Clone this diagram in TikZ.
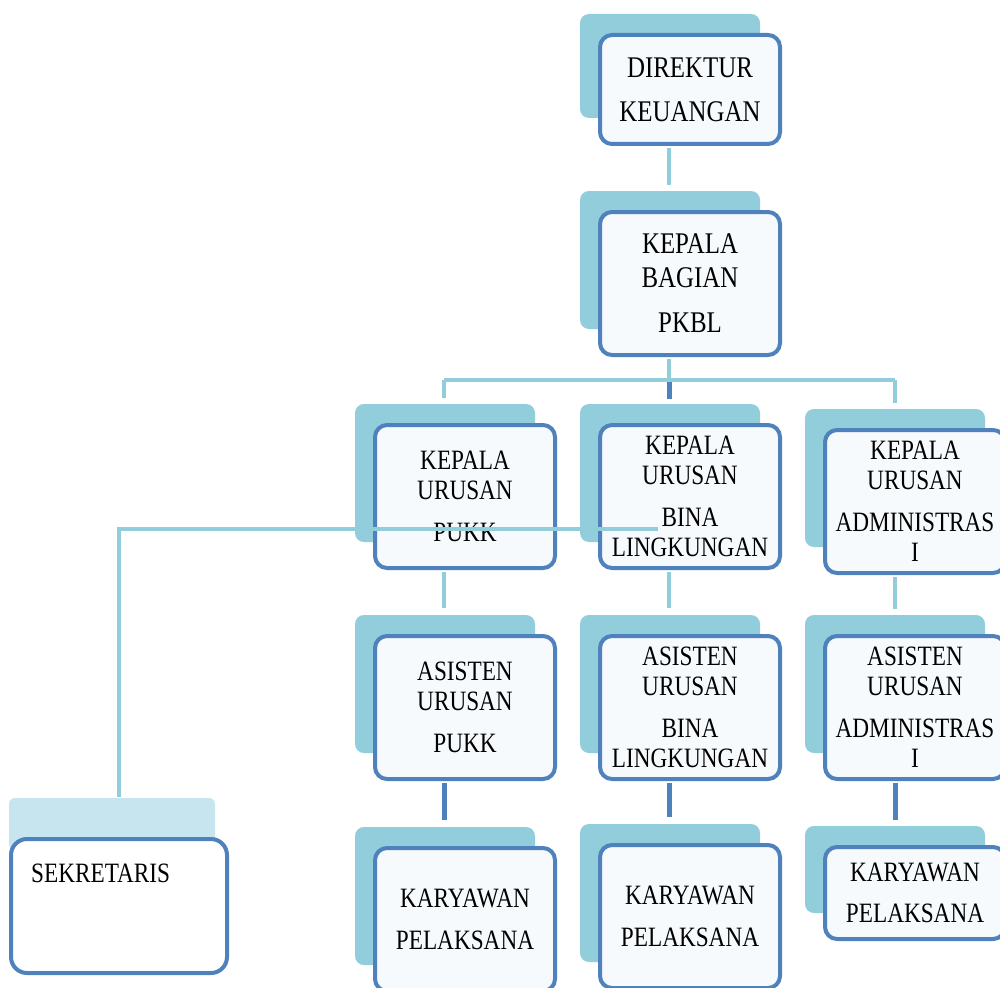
\documentclass[tikz,border=0pt]{standalone}
\usepackage{fontspec}
\newfontfamily\lbl[FakeStretch=0.83]{Liberation Serif}
\usetikzlibrary{calc}
\definecolor{backc}{HTML}{92CDDC}
\definecolor{edgec}{HTML}{4F81BD}
\definecolor{frontc}{HTML}{F6FAFD}
\definecolor{sekback}{HTML}{C6E5EE}
\tikzset{
  frontbox/.style={draw=edgec, line width=4pt, rounded corners=12pt, fill=frontc,
    minimum width=180pt, inner sep=0pt, align=center, font=\lbl\fontsize{28}{30}\selectfont},
  backbox/.style={fill=backc, rounded corners=9pt},
  lightline/.style={draw=backc, line width=4pt},
  darkline/.style={draw=edgec, line width=5pt},
  sektext/.style={font=\lbl\fontsize{28}{30}\selectfont, inner sep=0pt, anchor=west},
}
% [node options]{name}{cx}{cy}{height}{text}
\newcommand\orgbox[6][]{%
  \fill[backbox] ({#3-110},{#4-#5/2-21}) rectangle ({#3+70},{#4+#5/2-26});
  \node[frontbox, minimum height=#5pt, #1] (#2) at (#3,#4) {#6};
}
\begin{document}
\begin{tikzpicture}[x=1pt, y=-1pt]
\useasboundingbox (0,0) rectangle (1000,987);
\clip (0,0) rectangle (1000,987);
\fill[white] (0,0) rectangle (1000,987);

% boxes
\orgbox[font=\lbl\fontsize{30}{30}\selectfont]{dir}{690}{89.5}{109}{DIREKTUR\\[14pt]KEUANGAN}
\orgbox[font=\lbl\fontsize{30}{30}\selectfont]{pkbl}{690}{283.5}{143}{KEPALA\\[4pt]BAGIAN\\[15pt]PKBL}

\orgbox{kpukk}{465}{496.5}{143}{KEPALA\\URUSAN\\[12pt]PUKK}
\orgbox{kbina}{690}{496.5}{143}{KEPALA\\URUSAN\\[12pt]BINA\\LINGKUNGAN}
\orgbox{kadm}{915}{501.5}{143}{KEPALA\\URUSAN\\[12pt]ADMINISTRAS\\I}

\orgbox{apukk}{465}{707.5}{143}{ASISTEN\\URUSAN\\[12pt]PUKK}
\orgbox{abina}{690}{707.5}{143}{ASISTEN\\URUSAN\\[12pt]BINA\\LINGKUNGAN}
\orgbox{aadm}{915}{707.5}{143}{ASISTEN\\URUSAN\\[12pt]ADMINISTRAS\\I}

\orgbox{wpukk}{465}{919.5}{143}{KARYAWAN\\[12pt]PELAKSANA}
\orgbox{wbina}{690}{916.5}{143}{KARYAWAN\\[12pt]PELAKSANA}
\orgbox{wadm}{915}{893}{92}{KARYAWAN\\[11pt]PELAKSANA}

% sekretaris
\fill[sekback, rounded corners=6pt] (9,798) rectangle (215,850);
\node[frontbox, fill=white, minimum width=216pt, minimum height=134pt, rounded corners=16pt] (sek) at (119,906) {};
\node[sektext] (sekt) at (31,873) {SEKRETARIS};

% connectors
\coordinate (d1) at (669,185);
\draw[lightline] ($(dir.south)+(-21,2)$) -- (d1);

\coordinate (hm) at (669,380);
\coordinate (hl) at (444,380);
\coordinate (hr) at (895,380);
\coordinate (tl) at (444,398);
\coordinate (tm) at (669,399);
\coordinate (tr) at (895,403);
\draw[lightline] ($(pkbl.south)+(-21,2)$) -- (hm);
\draw[lightline] (hl) -- (hr);
\draw[lightline] (hl) -- (tl);
\draw[lightline] (hr) -- (tr);
\draw[darkline] ($(hm)+(0,2)$) -- (tm);

\coordinate (m1) at (444,608);
\coordinate (m2) at (669,608);
\coordinate (m3) at (895,609);
\draw[lightline] ($(kpukk.south)+(-21,2)$) -- (m1);
\draw[lightline] ($(kbina.south)+(-21,2)$) -- (m2);
\draw[lightline] ($(kadm.south)+(-20,2)$) -- (m3);

\coordinate (b1) at (444,820);
\coordinate (b2) at (669,817);
\coordinate (b3) at (895,820);
\draw[darkline] ($(apukk.south)+(-21,2)$) -- (b1);
\draw[darkline] ($(abina.south)+(-21,2)$) -- (b2);
\draw[darkline] ($(aadm.south)+(-20,2)$) -- (b3);

% line to sekretaris (drawn over boxes)
\coordinate (s1) at (658,529);
\coordinate (s2) at (119,797);
\draw[lightline, line width=3.5pt] (s1) -| (s2);
\end{tikzpicture}
\end{document}
